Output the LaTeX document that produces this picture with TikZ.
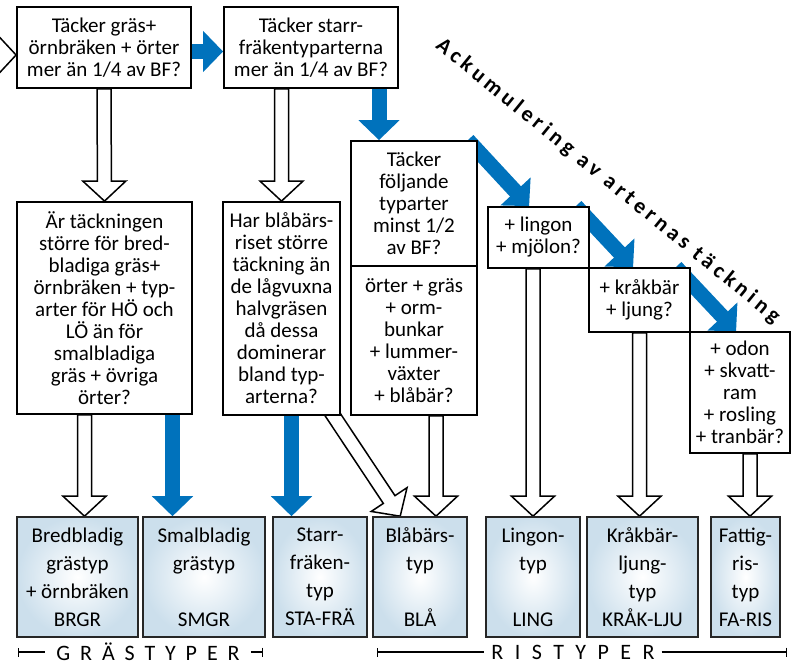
\documentclass[tikz,border=0pt]{standalone}
\usepackage{fontspec}
\setmainfont{Carlito}
\newfontfamily\diagfont[LetterSpace=19]{Carlito}
\newfontfamily\grasfont[LetterSpace=45]{Carlito}
\newfontfamily\risfont[LetterSpace=52]{Carlito}
\usetikzlibrary{calc,arrows.meta}
\definecolor{arrowblue}{RGB}{0,114,188}
\definecolor{typeblue}{RGB}{204,223,236}
\pgfdeclarelayer{background}
\pgfsetlayers{background,main}
% fat white arrow from #1 to #2
\newcommand{\hollowarrow}[2]{%
  \coordinate (ha) at #1;
  \coordinate (hb) at #2;
  \coordinate (hh) at ($(hb)!20pt!(ha)$);
  \draw[hollow] ($(ha)!7pt!90:(hb)$) -- ($(hh)!7pt!90:(hb)$) -- ($(hh)!21.5pt!90:(hb)$) -- (hb)
    -- ($(hh)!21.5pt!-90:(hb)$) -- ($(hh)!7pt!-90:(hb)$) -- ($(ha)!7pt!-90:(hb)$) -- cycle;}
\begin{document}
\begin{tikzpicture}[x=1pt,y=-1pt,
  qbox/.style={draw,fill=white,line width=1.8pt,align=center,inner sep=0pt},
  typebox/.style={draw=black!85,line width=1.6pt,align=center,inner sep=0pt,minimum height=120pt,
    inner color=white,outer color=typeblue,font=\fontsize{21}{28}\selectfont},
  hollow/.style={draw,fill=white,line width=1.5pt,line join=miter},
  bluearrow/.style={draw=arrowblue,line width=15pt,-{Triangle[width=40pt,length=20pt]}},
  typeline/.style={line width=1.3pt}]
\useasboundingbox (0,0) rectangle (791,666);
\fontsize{21}{22}\selectfont
% questions
\node[qbox,minimum width=174pt,minimum height=81pt] (q1) at (104,47.5) {Täcker gräs+\\örnbräken + örter\\mer än 1/4 av BF?};
\node[qbox,minimum width=174pt,minimum height=81pt] (q2) at (311,47.5) {Täcker starr-\\fräkentyparterna\\mer än 1/4 av BF?};
\node[qbox,minimum width=175pt,minimum height=212pt] (q3) at (104.5,308) {Är täckningen\\större för bred-\\bladiga gräs+\\örnbräken + typ-\\arter för HÖ och\\LÖ än för\\smalbladiga\\gräs + övriga\\örter?};
\node[qbox,minimum width=117pt,minimum height=213pt] (q4) at (281.5,308.5) {Har blåbärs-\\riset större\\täckning än\\de lågvuxna\\halvgräsen\\då dessa\\dominerar\\bland typ-\\arterna?};
\node[qbox,minimum width=126pt,minimum height=125pt] (q5a) at (414,203.5) {Täcker\\följande\\typarter\\minst 1/2\\av BF?};
\node[qbox,minimum width=126pt,minimum height=149pt] (q5b) at (414,340.5) {örter + gräs\\+ orm-\\bunkar\\+ lummer-\\växter\\+ blåbär?};
\node[qbox,minimum width=101pt,minimum height=61pt] (q6) at (538.5,237.5) {+ lingon\\+ mjölon?};
\node[qbox,minimum width=101pt,minimum height=64pt] (q7) at (639.5,300) {+ kråkbär\\+ ljung?};
\node[qbox,minimum width=100pt,minimum height=121pt] (q8) at (740,392.5) {+ odon\\+ skvatt-\\ram\\+ rosling\\+ tranbär?};
% vegetation types
\foreach \n/\cx/\w/\txt in {brgr/77.5/121/{Bredbladig\\grästyp\\+ örnbräken\\BRGR},
  smgr/204/122/{Smalbladig\\grästyp\\[28pt]SMGR},
  stafra/320/94/{Starr-\\fräken-\\typ\\STA-FRÄ},
  bla/420/94/{Blåbärs-\\typ\\[28pt]BLÅ},
  ling/533/94/{Lingon-\\typ\\[28pt]LING},
  krak/642.5/111/{Kråkbär-\\ljung-\\typ\\KRÅK-LJU},
  faris/745.5/69/{Fattig-\\ris-\\typ\\FA-RIS}}
  \node[typebox,minimum width=\w] (\n) at (\cx,577) {\txt};
\node[rotate=-39.2,font=\diagfont\bfseries\fontsize{22}{24}\selectfont] (accum) at (608,181) {Ackumulering av arternas täckning};
% arrows
\begin{pgfonlayer}{background}
\coordinate (in) at (-50,55);
\hollowarrow{(in)}{(in -| q1.west)}
\draw[bluearrow] ([yshift=-4pt]q1.east) -- ([yshift=-4pt]q2.west);
\coordinate (b2) at ([xshift=68pt]q2.south);
\draw[bluearrow] (b2) -- (b2 |- q5a.north);
\draw[bluearrow] ([xshift=-10pt]q5a.north east) -- ([xshift=42pt]q6.north west);
\draw[bluearrow] ([xshift=-14pt]q6.north east) -- ([xshift=45pt]q7.north west);
\draw[bluearrow] ([xshift=-15pt]q7.north east) -- ([xshift=47pt]q8.north west);
\coordinate (b6) at ([xshift=68pt]q3.south);
\draw[bluearrow] (b6) -- (b6 |- smgr.north);
\coordinate (b7) at ([xshift=10pt]q4.south);
\draw[bluearrow] (b7) -- (b7 |- stafra.north);
\hollowarrow{(q1.south)}{(q3.north)}
\hollowarrow{(q4.north |- q2.south)}{(q4.north)}
\coordinate (h3) at ([xshift=-20pt]q3.south);
\hollowarrow{(h3)}{(h3 |- brgr.north)}
\hollowarrow{([shift={(-16pt,13pt)}]q4.south east)}{([xshift=28pt]bla.north west)}
\coordinate (h5) at ([xshift=22pt]q5b.south);
\hollowarrow{(h5)}{(h5 |- bla.north)}
\hollowarrow{(ling.north |- q6.south)}{(ling.north)}
\hollowarrow{(q7.south)}{(q7.south |- krak.north)}
\coordinate (h8) at ([xshift=10pt]q8.south);
\hollowarrow{(h8)}{(h8 |- faris.north)}
\end{pgfonlayer}
% group labels
\node[font=\grasfont\fontsize{22}{24}\selectfont,inner xsep=11pt,inner ysep=0pt] (gras) at (148,652) {GRÄSTYPER};
\coordinate (g0) at (18,652);
\coordinate (g1) at (263,652);
\draw[typeline,{Bar[width=9pt]}-] (g0) -- (g0 -| gras.west);
\draw[typeline,-{Bar[width=9pt]}] (gras.east |- g1) -- (g1);
\node[font=\risfont\fontsize{22}{24}\selectfont,inner xsep=7pt,inner ysep=0pt] (ris) at (573,652) {RISTYPER};
\coordinate (r0) at (377,652);
\coordinate (r1) at (787,652);
\draw[typeline,{Bar[width=9pt]}-] (r0) -- (r0 -| ris.west);
\draw[typeline,-{Bar[width=9pt]}] (ris.east |- r1) -- (r1);
\end{tikzpicture}
\end{document}
